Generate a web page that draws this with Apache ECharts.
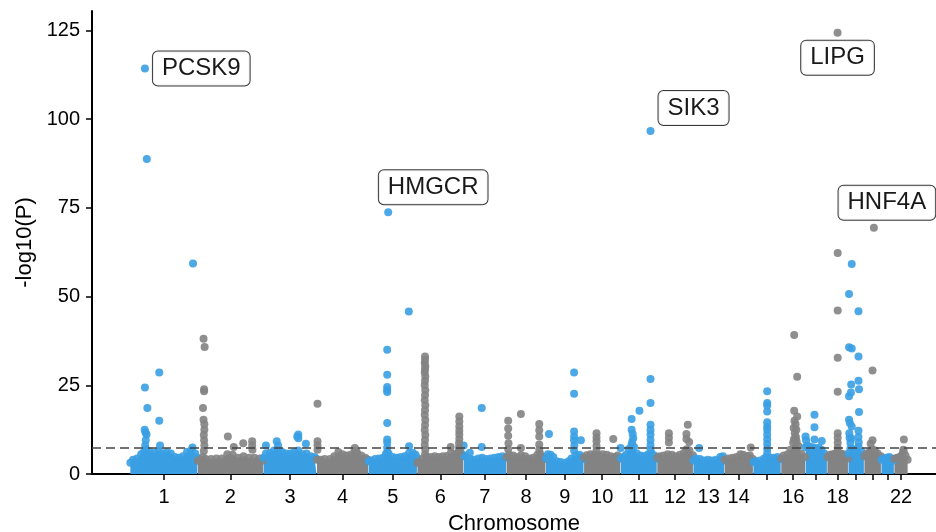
<!DOCTYPE html>
<html>
<head>
<meta charset="utf-8">
<title>Manhattan plot</title>
<script src="https://cdn.jsdelivr.net/npm/echarts@6/dist/echarts.min.js"></script>
<style>
  html, body { margin: 0; padding: 0; background: #fff; }
  #chart { width: 936px; height: 532px; }
</style>
</head>
<body>
<div id="chart"></div>
<script>
// chromosome lengths (Mb)
const chrLen = [249, 243, 198, 191, 181, 171, 159, 146, 141, 136, 135, 134, 115, 107, 103, 90, 81, 78, 59, 63, 48, 51];
// chromosomes that get a tick label
const labelledChr = [1, 2, 3, 4, 5, 6, 7, 8, 9, 10, 11, 12, 13, 14, 16, 18, 22];
const yTicks = [0, 25, 50, 75, 100, 125];
const threshold = 7.3;

// top of the dense band of SNPs: [chr, pos Mb, -log10(P)]
const bandTop = [
  [1,0,3.2],[1,10,4.0],[1,25,4.4],[1,40,5.6],[1,50,6.2],[1,70,6.4],[1,90,6.0],[1,105,6.4],[1,120,5.8],[1,135,6.2],[1,150,5.8],[1,165,4.8],[1,180,4.6],[1,195,5.0],[1,210,6.3],[1,225,6.6],[1,240,5.8],[1,248,4.6],
  [2,1,3.7],[2,10,4.0],[2,20,4.8],[2,30,4.2],[2,50,4.2],[2,70,4.4],[2,90,4.4],[2,110,5.6],[2,130,5.4],[2,150,4.6],[2,170,5.0],[2,190,4.6],[2,210,4.6],[2,230,4.4],[2,242,3.8],
  [3,1,4.6],[3,10,5.8],[3,25,6.0],[3,40,6.6],[3,55,6.8],[3,70,6.2],[3,85,5.8],[3,100,5.8],[3,115,6.2],[3,130,6.6],[3,145,5.6],[3,160,5.8],[3,175,5.0],[3,190,4.8],[3,197,4.3],
  [4,1,4.0],[4,15,4.0],[4,30,4.2],[4,50,4.2],[4,65,5.0],[4,80,6.2],[4,95,5.6],[4,110,5.2],[4,125,5.4],[4,140,6.4],[4,150,5.8],[4,165,5.2],[4,180,4.6],[4,190,4.0],
  [5,1,3.6],[5,10,3.8],[5,25,4.2],[5,40,4.4],[5,55,4.6],[5,65,5.6],[5,75,5.8],[5,90,4.8],[5,105,4.6],[5,120,4.8],[5,135,5.0],[5,150,5.8],[5,165,6.0],[5,175,5.4],[5,180,4.6],
  [6,1,3.2],[6,8,3.4],[6,20,4.3],[6,35,4.8],[6,50,4.8],[6,65,5.0],[6,80,4.8],[6,95,5.0],[6,110,5.1],[6,125,6.0],[6,140,5.6],[6,150,6.0],[6,160,6.3],[6,170,5.3],
  [7,1,5.3],[7,10,4.8],[7,25,4.2],[7,40,4.0],[7,55,4.4],[7,70,4.6],[7,85,4.2],[7,100,4.4],[7,115,4.6],[7,130,4.8],[7,145,5.0],[7,158,4.6],
  [8,1,4.8],[8,10,5.4],[8,25,5.2],[8,40,4.8],[8,55,5.3],[8,70,5.0],[8,85,4.4],[8,100,4.6],[8,115,5.4],[8,125,5.8],[8,135,4.8],[8,145,4.2],
  [9,1,4.4],[9,8,5.6],[9,18,5.4],[9,28,4.8],[9,40,3.6],[9,55,3.4],[9,70,3.2],[9,85,3.6],[9,95,4.4],[9,110,5.2],[9,125,5.4],[9,135,4.8],[9,140,4.2],
  [10,1,4.6],[10,10,5.3],[10,25,5.6],[10,40,5.4],[10,55,5.2],[10,70,5.6],[10,85,5.4],[10,100,5.0],[10,115,4.8],[10,125,5.2],[10,135,4.4],
  [11,1,4.4],[11,10,4.8],[11,20,5.4],[11,30,7.0],[11,40,8.0],[11,50,7.6],[11,60,5.8],[11,75,5.2],[11,90,5.0],[11,100,5.4],[11,115,5.8],[11,125,5.2],[11,134,4.4],
  [12,1,4.6],[12,10,5.0],[12,25,5.2],[12,40,5.6],[12,55,5.4],[12,70,5.0],[12,85,5.4],[12,100,6.0],[12,110,7.0],[12,120,6.6],[12,133,5.3],
  [13,1,3.8],[13,10,4.4],[13,25,4.2],[13,40,3.8],[13,55,4.0],[13,70,3.8],[13,85,4.0],[13,100,4.8],[13,110,5.0],[13,114,3.8],
  [14,1,4.0],[14,15,4.4],[14,30,4.6],[14,45,4.8],[14,60,5.6],[14,70,5.4],[14,85,5.0],[14,95,5.2],[14,106,4.2],
  [15,1,3.4],[15,10,3.6],[15,25,3.8],[15,40,4.4],[15,50,4.8],[15,60,4.6],[15,75,4.6],[15,90,4.8],[15,102,4.2],
  [16,1,4.4],[16,10,5.2],[16,25,5.6],[16,35,6.8],[16,45,8.8],[16,55,9.8],[16,65,7.8],[16,75,5.8],[16,89,4.8],
  [17,1,7.6],[17,8,8.0],[17,20,7.6],[17,30,7.4],[17,40,7.2],[17,50,7.4],[17,60,6.8],[17,70,5.8],[17,80,4.8],
  [18,1,4.8],[18,10,5.4],[18,20,5.6],[18,30,5.8],[18,40,6.3],[18,50,5.8],[18,60,5.6],[18,70,5.0],[18,77,4.4],
  [19,1,5.8],[19,8,7.2],[19,18,7.0],[19,28,6.8],[19,38,7.6],[19,48,6.4],[19,58,5.2],
  [20,1,5.0],[20,10,5.8],[20,20,6.2],[20,30,7.0],[20,40,6.6],[20,50,5.8],[20,62,5.0],
  [21,1,4.0],[21,10,4.4],[21,20,4.6],[21,30,4.8],[21,40,4.4],[21,47,3.8],
  [22,1,4.2],[22,10,4.6],[22,20,4.8],[22,30,5.6],[22,35,6.4],[22,42,5.2],[22,50,4.0]
];

// SNPs standing out above the band: [chr, pos Mb, -log10(P)]
const hits = [
  [1,61,88.8],[1,232,59.3],[1,107,28.6],[1,54,24.4],[1,63,18.6],[1,107,15.0],[1,53,12.5],[1,56,11.7],[1,60,11.1],[1,57,9.5],[1,55,8.0],[1,58,7.0],[1,110,8.0],[1,230,7.5],
  [2,22,38.1],[2,26,35.8],[2,24,23.9],[2,24,23.3],[2,20,18.6],[2,22,15.3],[2,25,14.0],[2,25,12.5],[2,23,11.0],[2,24,9.5],[2,25,8.0],[2,23,6.5],[2,112,10.6],[2,134,7.6],[2,169,8.7],[2,202,9.2],[2,202,8.0],[2,203,6.8],
  [3,10,8.0],[3,50,9.2],[3,55,8.0],[3,126,10.6],[3,130,11.1],[3,130,10.1],[3,158,8.5],
  [4,3,19.8],[4,3,9.2],[4,3,8.0],[4,3,6.8],[4,141,7.3],[4,147,6.4],
  [5,150,45.8],[5,70,35.0],[5,70,28.0],[5,70,24.5],[5,70,23.7],[5,70,23.1],[5,70,14.4],[5,70,9.7],[5,70,8.9],[5,70,7.5],[5,70,6.2],[5,151,7.8],
  [6,29,33.1],[6,29,32.2],[6,28,31.3],[6,30,30.4],[6,29,29.5],[6,28,28.6],[6,30,27.5],[6,29,26.3],[6,28,25.0],[6,30,23.6],[6,29,22.2],[6,28,20.8],[6,30,19.4],[6,29,18.0],[6,28,16.6],[6,30,15.2],[6,29,13.8],[6,28,12.4],[6,30,11.0],[6,29,9.6],[6,28,8.2],[6,30,6.8],[6,29,5.5],
  [6,124,7.6],[6,156,16.2],[6,156,14.8],[6,156,13.4],[6,156,12.2],[6,156,11.1],[6,156,9.9],[6,155,8.7],[6,155,7.4],[6,155,6.2],
  [7,1,8.0],[7,24,6.0],[7,68,18.6],[7,68,7.6],
  [8,7,15.0],[8,7,12.8],[8,7,10.8],[8,8,8.7],[8,7,7.0],[8,54,16.9],[8,54,7.3],[8,122,14.1],[8,122,12.3],[8,122,10.6],[8,122,8.3],[8,122,6.8],
  [9,12,11.3],[9,105,28.6],[9,105,22.6],[9,105,12.0],[9,105,10.6],[9,105,9.5],[9,106,8.0],[9,105,6.6],[9,130,9.5],
  [10,47,11.5],[10,47,10.3],[10,47,9.2],[10,47,7.9],[10,47,6.6],[10,109,9.9],
  [11,0,7.3],[11,41,15.5],[11,41,12.5],[11,45,11.3],[11,47,10.1],[11,43,9.0],[11,70,17.8],[11,111,26.8],[11,111,20.0],[11,111,13.9],[11,111,12.4],[11,111,11.1],[11,111,9.6],[11,111,8.2],[11,111,6.8],
  [12,44,11.5],[12,44,10.2],[12,44,8.9],[12,114,13.9],[12,109,11.3],[12,109,9.9],[12,119,9.0],
  [13,22,7.3],
  [14,98,7.5],
  [15,52,23.3],[15,52,20.0],[15,52,19.3],[15,52,17.6],[15,52,14.6],[15,52,13.4],[15,52,12.5],[15,52,11.1],[15,52,9.8],[15,52,8.5],[15,52,7.2],[15,52,5.9],
  [16,49,39.2],[16,60,27.4],[16,49,17.8],[16,60,16.2],[16,50,15.0],[16,54,14.0],[16,47,13.0],[16,57,12.5],[16,51,11.5],[16,55,10.5],[16,48,9.8],[16,58,9.0],
  [17,1,10.6],[17,3,9.5],[17,34,16.7],[17,34,13.2],[17,34,9.7],[17,61,9.3],
  [18,39,62.3],[18,39,46.1],[18,39,32.8],[18,39,23.2],[18,39,11.5],[18,39,10.2],[18,39,8.8],[18,39,7.4],
  [19,13,59.2],[19,3,50.7],[19,38,45.9],[19,3,35.7],[19,13,35.4],[19,38,33.1],[19,38,26.3],[19,11,25.2],[19,40,23.9],[19,10,23.0],[19,3,21.9],[19,40,17.5],[19,3,15.3],[19,6,14.4],[19,13,13.4],[19,38,12.2],[19,4,11.5],[19,5,10.2],[19,12,10.0],[19,8,8.8],[19,38,10.4],[19,39,8.9],
  [20,31,29.2],[20,31,9.5],[20,24,8.5],
  [22,36,9.7],[22,34,6.8]
];

// labelled lead SNPs
const geneNames = ['PCSK9', 'HMGCR', 'SIK3', 'LIPG', 'HNF4A'];
const geneChr = [1, 5, 11, 18, 20];
const genePos = [54, 73.7, 111, 38.5, 36];
const geneP = [114.3, 73.8, 96.7, 124.4, 69.4];

// label placement for each gene box
const geneLabel = {
  PCSK9: { position: 'right', offset: [0, 0] },
  HMGCR: { position: 'top', offset: [45, 0] },
  SIK3: { position: 'right', offset: [0, -23] },
  LIPG: { position: 'bottom', offset: [0, 0] },
  HNF4A: { position: 'top', offset: [13, 0] }
};

const blue = '#3a9ee3';
const grey = '#838383';
const colorOf = chr => (chr % 2 === 1 ? blue : grey);

// cumulative start of each chromosome
const chrStart = [];
let acc = 0;
chrLen.forEach(l => { chrStart.push(acc); acc += l; });
const chrCenter = chrLen.map((l, i) => chrStart[i] + l / 2);
const toX = (chr, pos) => chrStart[chr - 1] + pos;

const series = [];

// dense band per chromosome: filled area plus dots along its top
for (let c = 1; c <= 22; c++) {
  const pts = bandTop.filter(d => d[0] === c).map(d => [toX(c, d[1]), d[2]]);
  series.push({
    type: 'line',
    data: pts,
    symbol: 'circle',
    symbolSize: 8,
    showSymbol: true,
    showAllSymbol: true,
    silent: true,
    lineStyle: { width: 0 },
    itemStyle: { color: colorOf(c), opacity: 0.9 },
    areaStyle: { color: colorOf(c), opacity: 1 },
    z: 2
  });
}

// outlying SNPs
[blue, grey].forEach(col => {
  series.push({
    type: 'scatter',
    symbolSize: 8,
    silent: true,
    itemStyle: { color: col, opacity: 0.9 },
    data: hits.filter(d => colorOf(d[0]) === col).map(d => [toX(d[0], d[1]), d[2]]),
    z: 3
  });
});

// genome-wide significance line
series.push({
  type: 'line',
  data: [],
  silent: true,
  z: 6,
  markLine: {
    silent: true,
    symbol: ['none', 'none'],
    label: { show: false },
    lineStyle: { color: '#444', width: 1.5, type: [9, 5] },
    data: [{ yAxis: threshold }]
  }
});

// labelled genes
series.push({
  type: 'scatter',
  symbolSize: 8,
  silent: true,
  z: 8,
  data: geneNames.map((g, i) => ({
    value: [toX(geneChr[i], genePos[i]), geneP[i]],
    itemStyle: { color: colorOf(geneChr[i]), opacity: 0.9 },
    label: {
      show: true,
      formatter: g,
      position: geneLabel[g].position,
      offset: geneLabel[g].offset,
      distance: 4,
      fontFamily: 'Liberation Sans, Arial, sans-serif',
      fontSize: 24,
      lineHeight: 26,
      color: '#000',
      backgroundColor: '#fff',
      borderColor: '#222',
      borderWidth: 1,
      borderRadius: 5,
      padding: [4, 9, 4, 9]
    }
  }))
});

const chart = echarts.init(document.getElementById('chart'), null, { renderer: 'canvas' });
chart.setOption({
  animation: false,
  backgroundColor: '#fff',
  grid: { left: 92, right: 0, top: 11, bottom: 58, outerBoundsMode: 'none', containLabel: false },
  xAxis: {
    type: 'value',
    min: -142,
    max: 2983,
    name: 'Chromosome',
    nameLocation: 'middle',
    nameGap: 39,
    nameTextStyle: { fontFamily: 'Liberation Sans, Arial, sans-serif', fontSize: 22, color: '#000' },
    splitLine: { show: false },
    axisLine: { onZero: false, lineStyle: { color: '#000', width: 2 } },
    axisTick: { customValues: chrCenter, length: 6, lineStyle: { color: '#000', width: 1.5 } },
    axisLabel: {
      customValues: labelledChr.map(c => chrCenter[c - 1]),
      formatter: v => {
        const i = chrCenter.findIndex(m => Math.abs(m - v) < 0.5);
        return i >= 0 ? String(i + 1) : '';
      },
      fontFamily: 'Liberation Sans, Arial, sans-serif',
      fontSize: 20,
      color: '#000',
      margin: 13
    }
  },
  yAxis: {
    type: 'value',
    min: 0,
    max: 130.5,
    name: '-log10(P)',
    nameLocation: 'middle',
    nameGap: 52,
    nameTextStyle: { fontFamily: 'Liberation Sans, Arial, sans-serif', fontSize: 22, color: '#000' },
    splitLine: { show: false },
    axisLine: { onZero: false, lineStyle: { color: '#000', width: 2 } },
    axisTick: { customValues: yTicks, length: 6, lineStyle: { color: '#000', width: 1.5 } },
    axisLabel: {
      customValues: yTicks,
      fontFamily: 'Liberation Sans, Arial, sans-serif',
      fontSize: 20,
      color: '#000',
      margin: 12
    }
  },
  series: series
});
</script>
</body>
</html>
